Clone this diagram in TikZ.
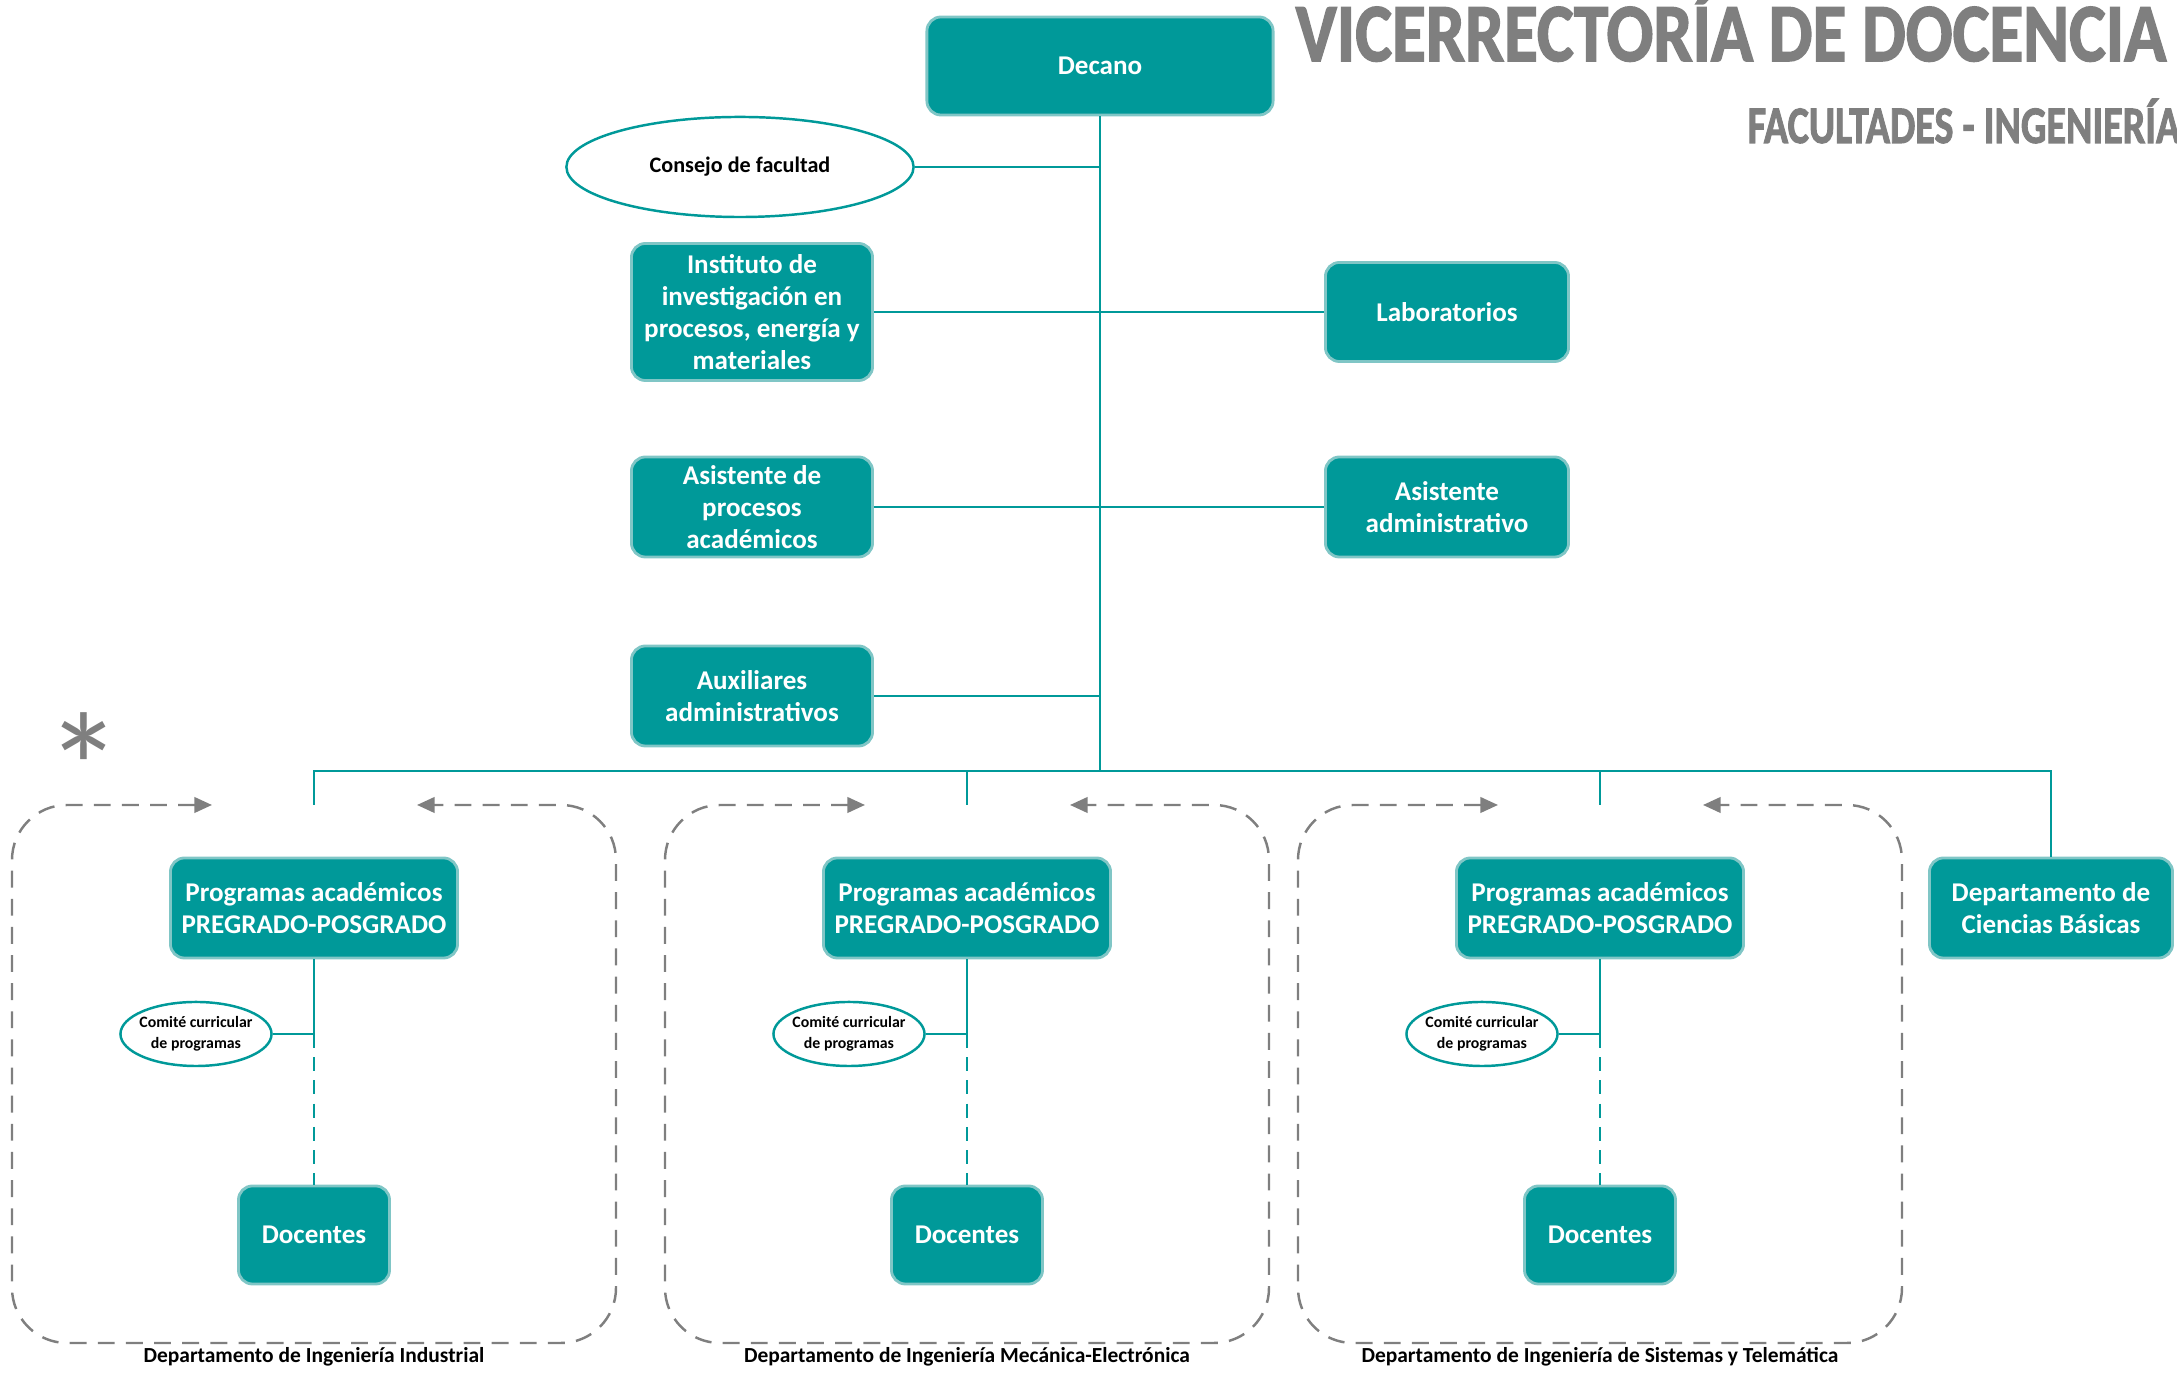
\documentclass[tikz,border=0pt]{standalone}
\usepackage{fontspec}
\setmainfont{Carlito}
\newfontfamily\fuentetitulo[BoldFeatures={FakeBold=2}]{Carlito}
\usetikzlibrary{shapes.geometric,arrows.meta}

\definecolor{verdeU}{HTML}{009999}
\definecolor{bordeU}{HTML}{80C6C6}
\definecolor{grisT}{HTML}{7F7F7F}

\tikzset{
  caja/.style={rectangle, rounded corners=0.14cm, fill=verdeU, draw=bordeU, line width=0.8pt,
    text=white, align=center, inner sep=1pt, font=\bfseries\fontsize{7.7}{9.1}\selectfont},
  elipse/.style={ellipse, draw=verdeU, line width=0.7pt, fill=white, align=center, inner sep=0pt,
    font=\bfseries\fontsize{6.3}{7}\selectfont},
  linea/.style={verdeU, line width=0.7pt},
  punteo/.style={grisT, line width=0.7pt, dash pattern=on 4.8pt off 3.2pt, rounded corners=0.55cm,
    arrows={Triangle[length=5pt,width=4.4pt]-Triangle[length=5pt,width=4.4pt]}},
  depto/.style={font=\bfseries\fontsize{6.1}{7}\selectfont}
}

\begin{document}
\begin{tikzpicture}[x=0.01cm, y=-0.01cm]
  \useasboundingbox (0,0) rectangle (2177,1374);

  % Titulos
  \node[anchor=base west, text=grisT, inner sep=0, font=\fuentetitulo\bfseries\fontsize{23.5}{24}\selectfont]
    (titulo) at (1295,61) {\scalebox{0.84}[1]{VICERRECTORÍA DE DOCENCIA}};
  \node[anchor=base west, text=grisT, inner sep=0, font=\fuentetitulo\bfseries\fontsize{15}{15}\selectfont]
    (subtitulo) at (1747,143) {\scalebox{0.76}[1]{FACULTADES - INGENIERÍA}};

  % Decano y dependencias
  \node[caja, minimum width=3.46cm, minimum height=0.98cm] (decano) at (1100,66) {Decano};
  \node[elipse, minimum width=3.47cm, minimum height=1cm] (consejo) at (740,167) {Consejo de facultad};
  \node[caja, minimum width=2.41cm, minimum height=1.37cm] (instituto) at (752,312)
    {Instituto de\\investigación en\\procesos, energía y\\materiales};
  \node[caja, minimum width=2.43cm, minimum height=0.99cm] (laboratorios) at (1447,312) {Laboratorios};
  \node[caja, minimum width=2.41cm, minimum height=1cm] (asisacad) at (752,507)
    {Asistente de\\procesos\\académicos};
  \node[caja, minimum width=2.43cm, minimum height=1cm] (asisadmin) at (1447,507)
    {Asistente\\administrativo};
  \node[caja, minimum width=2.41cm, minimum height=1cm] (auxiliares) at (752,696)
    {Auxiliares\\administrativos};
  \node[caja, minimum width=2.43cm, minimum height=1cm] (ciencias) at (2051,908)
    {Departamento de\\Ciencias Básicas};

  \node[text=grisT, font=\fontsize{44}{44}\selectfont] (asterisco) at (84,768) {*};

  % Departamentos
  \foreach \cx/\n/\nombre in {314/1/{Departamento de Ingeniería Industrial},
      967/2/{Departamento de Ingeniería Mecánica-Electrónica},
      1600/3/{Departamento de Ingeniería de Sistemas y Telemática}} {
    \node[caja, minimum width=2.87cm, minimum height=1cm] (prog\n) at (\cx,908)
      {Programas académicos\\PREGRADO-POSGRADO};
    \node[elipse, minimum width=1.51cm, minimum height=0.64cm, inner sep=-2pt,
      font=\bfseries\fontsize{4.5}{6}\selectfont]
      (comite\n) at (\cx-118,1034) {Comité curricular\\de programas};
    \node[caja, minimum width=1.51cm, minimum height=0.98cm] (docentes\n) at (\cx,1235) {Docentes};
    \coordinate (baja\n) at (\cx,805);
    \draw[linea] (prog\n.south) -- (comite\n.east -| prog\n.south);
    \draw[linea] (comite\n.east) -- (comite\n.east -| prog\n.south);
    \draw[linea, dash pattern=on 4pt off 2.6pt] (comite\n.east -| prog\n.south) -- (docentes\n.north);
    \draw[punteo] (\cx-102,805) -- (\cx-302,805) -- (\cx-302,1343) -- (\cx+302,1343)
      -- (\cx+302,805) -- (\cx+103,805);
    \node[depto] (nombre\n) at (\cx,1357) {\nombre};
  }

  % Conectores
  \coordinate (bus) at (1100,771);
  \draw[linea] (decano.south) -- (bus);
  \draw[linea] (consejo.east) -- (consejo.east -| bus);
  \draw[linea] (instituto.east) -- (laboratorios.west);
  \draw[linea] (asisacad.east) -- (asisadmin.west);
  \draw[linea] (auxiliares.east) -- (auxiliares.east -| bus);
  \draw[linea] (baja1) |- (bus) -| (ciencias.north);
  \draw[linea] (baja2) -- (baja2 |- bus);
  \draw[linea] (baja3) -- (baja3 |- bus);
\end{tikzpicture}
\end{document}
